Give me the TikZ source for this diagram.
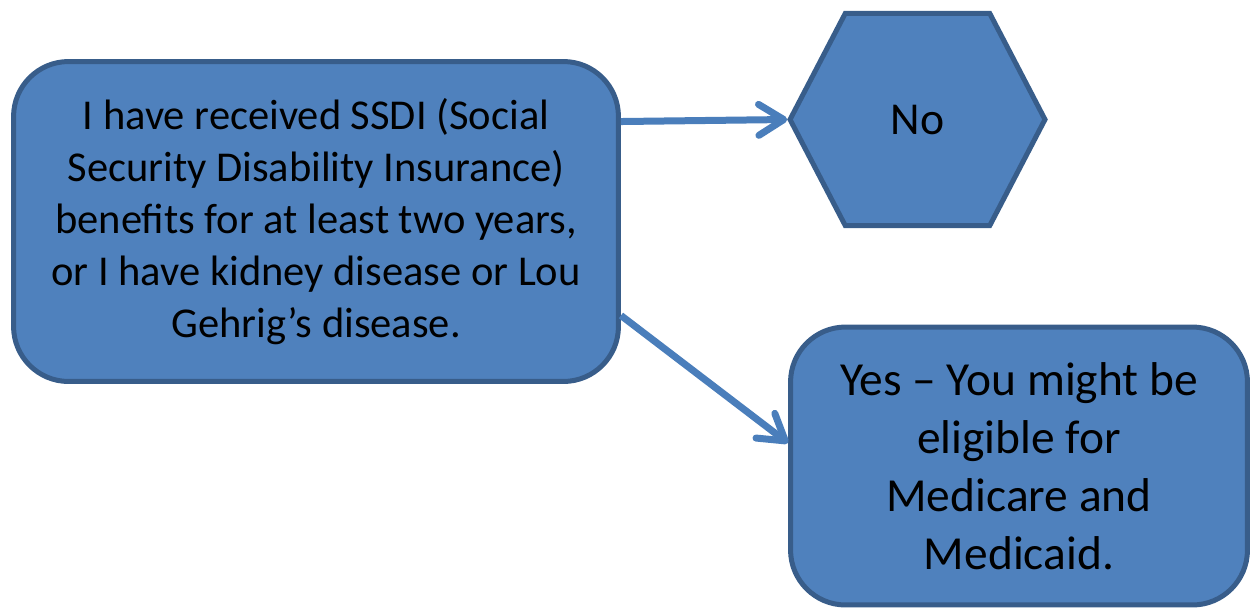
\documentclass[tikz,border=0pt]{standalone}
\usepackage{fontspec}
\setmainfont{Carlito}
\usepackage{xcolor}
\usepackage{tikz}
\usetikzlibrary{shapes.symbols, arrows.meta, positioning}

\definecolor{boxfill}{HTML}{4F81BD}
\definecolor{boxline}{HTML}{385D8A}
\definecolor{arrline}{HTML}{4A7EBB}

\begin{document}
\begin{tikzpicture}[
    x=0.02cm, y=-0.02cm,
    box/.style={rectangle, rounded corners=1.1cm, draw=boxline, fill=boxfill, line width=0.1cm, inner sep=0pt, align=center},
    hexa/.style={signal, signal to=east and west, signal pointer angle=125, draw=boxline, fill=boxfill, line width=0.1cm, inner sep=0pt, align=center},
    arr/.style={-{Straight Barb[length=0.5cm, width=0.62cm, round]}, line width=0.14cm, arrline}
]
\useasboundingbox (0,0) rectangle (1253,609);

\node[box, minimum width=12.1cm, minimum height=6.4cm, font=\fontsize{24.2}{29.6}\selectfont] (question) at (316,221.5)
    {I have received SSDI (Social\\Security Disability Insurance)\\benefits for at least two years,\\or I have kidney disease or Lou\\Gehrig’s disease.};

\node[hexa, minimum width=5.1cm, minimum height=4.25cm, font=\fontsize{26}{32}\selectfont] (no) at (917.5,119.5) {No};

\node[box, minimum width=9.14cm, minimum height=5.56cm, font=\fontsize{27}{33}\selectfont] (yes) at (1019,466)
    {Yes – You might be\\eligible for\\Medicare and\\Medicaid.};

% answers
\draw[arr] ([yshift=2cm]question.east) -- (no.west);
\draw[arr] ([yshift=-1.88cm]question.east) -- ([yshift=0.46cm]yes.west);
\end{tikzpicture}
\end{document}
